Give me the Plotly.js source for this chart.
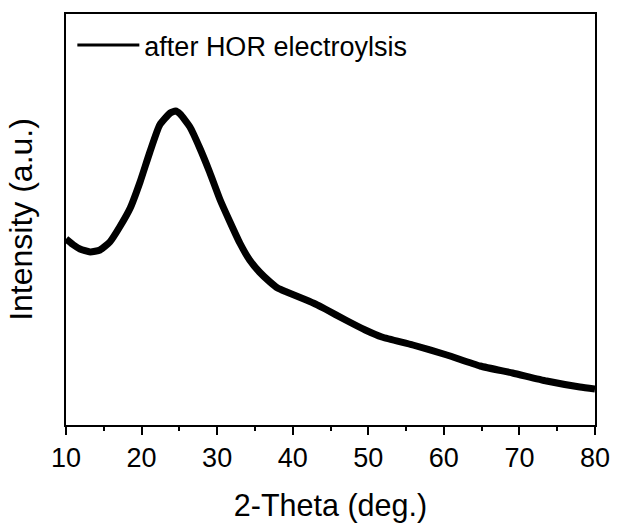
<!DOCTYPE html>
<html>
<head>
<meta charset="utf-8">
<script src="https://cdn.plot.ly/plotly-3.0.1.min.js"></script>
<style>html,body{margin:0;padding:0;background:#fff;}#chart{width:617px;height:526px;}</style>
</head>
<body>
<div id="chart"></div>
<script>
// 2-Theta (deg.) positions
var twoTheta = [10.0, 11.0, 11.85, 13.2, 14.5, 15.8, 17.1, 18.5, 19.8, 21.1, 22.4, 23.8, 24.5, 25.1, 26.4, 27.7, 29.0, 30.4, 31.7, 33.0, 34.3, 35.6, 37.0, 38.0, 39.2, 40.5, 41.8, 43.0, 44.3, 47.0, 49.6, 51.8, 55.9, 60.4, 64.8, 69.1, 73.6, 78.0, 80.0];
// Intensity (a.u.) (arbitrary units)
var intensity = [186, 180, 176, 173, 175, 183, 198, 217, 243, 273, 300, 312, 314, 311, 298, 277, 253, 225, 203, 182, 165, 153, 143, 137, 133, 129, 125, 121, 116, 105, 95, 88, 80, 70, 59, 52, 44, 38, 36];
var seriesName = "after HOR electroylsis";
var xTickVals = [10, 20, 30, 40, 50, 60, 70, 80];

var font = "Arial, 'Liberation Sans', sans-serif";

var trace = {
  x: twoTheta,
  y: intensity,
  type: "scatter",
  mode: "lines",
  name: seriesName,
  line: {color: "#000", width: 7, shape: "spline", smoothing: 0.5}
};

var layout = {
  width: 617,
  height: 526,
  margin: {l: 66, r: 22, t: 14, b: 101},
  paper_bgcolor: "#fff",
  plot_bgcolor: "#fff",
  font: {family: font, color: "#000"},
  showlegend: true,
  legend: {
    x: 0.012, y: 0.983, xanchor: "left", yanchor: "top",
    bgcolor: "rgba(0,0,0,0)",
    font: {family: font, size: 27, color: "#000"},
    itemwidth: 62
  },
  xaxis: {
    range: [10, 80],
    tickvals: xTickVals,
    ticks: "outside",
    ticklen: 8,
    tickwidth: 2,
    tickcolor: "#000",
    minor: {dtick: 5, tick0: 10, ticks: "outside", ticklen: 4, tickwidth: 2, tickcolor: "#000"},
    showline: true,
    linewidth: 2,
    linecolor: "#000",
    mirror: true,
    showgrid: false,
    zeroline: false,
    tickfont: {family: font, size: 27, color: "#000"},
    title: {text: "2-Theta (deg.)", font: {family: font, size: 30.5, color: "#000"}, standoff: 22}
  },
  yaxis: {
    range: [0, 411],
    showticklabels: false,
    ticks: "",
    showline: true,
    linewidth: 2,
    linecolor: "#000",
    mirror: true,
    showgrid: false,
    zeroline: false,
    title: {text: "Intensity (a.u.)", font: {family: font, size: 32, color: "#000"}, standoff: 22}
  }
};

Plotly.newPlot("chart", [trace], layout, {displayModeBar: false, staticPlot: true}).then(function (gd) {
  var paths = gd.querySelectorAll(".legend .legendlines path");
  paths.forEach(function (p) { p.style.strokeWidth = "3px"; });
});
</script>
</body>
</html>
